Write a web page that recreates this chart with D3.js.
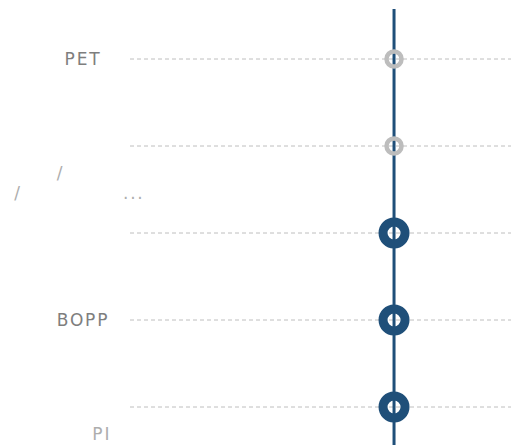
<!DOCTYPE html>
<html>
<head>
<meta charset="utf-8">
<script src="https://cdn.jsdelivr.net/npm/d3@7"></script>
<style>
  html, body { margin: 0; padding: 0; background: #fff; }
  svg text { font-family: "DejaVu Sans", sans-serif; white-space: pre; }
</style>
</head>
<body>
<div id="chart"></div>
<script>
// categories (CJK parts of the original labels show as blank glyphs, kept as ideographic spaces)
var categories = ['PET', 'c2', 'c3', 'BOPP', 'c5'];
var labelLines = [
  ['PET'],
  ['\u3000\u3000\u3000', '\u3000\u3000\u3000\u3000', '\u3000/\u3000\u3000\u3000\u00a0'],
  ['/\u3000\u3000\u3000\u3000\u3000\u00a0...\u00a0', '\u3000\u3000\u3000', '\u3000\u3000\u3000', '\u3000\u3000'],
  ['BOPP'],
  ['\u3000\u3000\u3000', '\u3000\u3000\u3000', '\u3000\u3000PI']
];
var labelMuted = [false, true, true, false, true];
var values = [69.3, 69.3, 69.3, 69.3, 69.3];
var highlighted = [false, false, true, true, true];
var xDomain = [0, 100];
var refValue = 69.3;

var width = 511, height = 445;
var margin = { top: 15.5, right: 0, bottom: -5.5, left: 130 };

var svg = d3.select('#chart').append('svg')
  .attr('width', width)
  .attr('height', height);

var x = d3.scaleLinear().domain(xDomain).range([margin.left, width - margin.right]);
var y = d3.scaleBand().domain(categories).range([margin.top, height - margin.bottom]).padding(0);
function cy(c) { return y(c) + y.bandwidth() / 2; }

// dashed grid lines
svg.append('g').selectAll('line')
  .data(categories)
  .enter().append('line')
  .attr('x1', margin.left)
  .attr('x2', width)
  .attr('y1', cy)
  .attr('y2', cy)
  .style('stroke', '#bebebe')
  .style('stroke-width', 1)
  .style('stroke-dasharray', '4,3');

// category labels, one text per visible line
var lh = 27;
var rows = [];
categories.forEach(function (c, i) {
  var n = labelLines[i].length;
  labelLines[i].forEach(function (t, k) {
    if (t.replace(/\u3000/g, '') === '') return;
    rows.push({ text: t, y: cy(c) + 6 + (k - (n - 1) / 2) * lh, muted: labelMuted[i] });
  });
});
svg.append('g').selectAll('text')
  .data(rows)
  .enter().append('text')
  .attr('x', 83)
  .attr('y', function (d) { return d.y; })
  .attr('text-anchor', 'middle')
  .style('font-size', '17px')
  .style('letter-spacing', '1.8px')
  .style('fill', function (d) { return d.muted ? '#adadad' : '#7e7e7e'; })
  .text(function (d) { return d.text; });

// reference line
svg.append('line')
  .attr('x1', x(refValue))
  .attr('x2', x(refValue))
  .attr('y1', 9)
  .attr('y2', height)
  .style('stroke', '#1f4f79')
  .style('stroke-width', 3);

// dots
svg.append('g').selectAll('circle')
  .data(categories)
  .enter().append('circle')
  .attr('cx', function (d, i) { return x(values[i]); })
  .attr('cy', cy)
  .attr('r', function (d, i) { return highlighted[i] ? 11 : 7.5; })
  .style('fill', 'none')
  .style('stroke', function (d, i) { return highlighted[i] ? '#1f4f79' : '#bdbdbd'; })
  .style('stroke-width', function (d, i) { return highlighted[i] ? 9 : 4.5; });
</script>
</body>
</html>
